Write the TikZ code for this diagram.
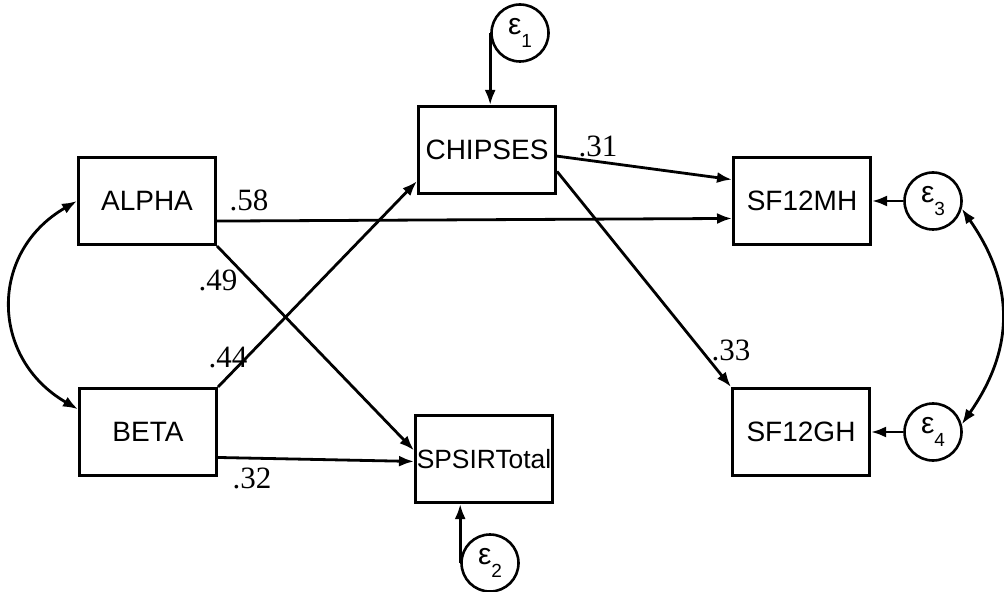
\documentclass[tikz,border=0pt]{standalone}
\usepackage{fontspec}
\setmainfont{Liberation Serif}
\setsansfont{Liberation Sans}
\usetikzlibrary{arrows.meta}

\begin{document}
\begin{tikzpicture}
[%%%%%%%%%%%%%%%%%%%%%%%%%%%%%%
x=0.5pt,y=-0.5pt,
box/.style={rectangle,draw=black,line width=1.5pt,minimum width=68.5pt,minimum height=43.5pt,inner sep=0pt,font=\sffamily\fontsize{14}{16}\selectfont},
err/.style={circle,draw=black,line width=1.3pt,minimum size=28.5pt,inner sep=0pt,font=\sffamily\fontsize{15}{15}\selectfont},
coef/.style={inner sep=0pt,font=\fontsize{15.5}{17}\selectfont},
arr/.style={line width=1.4pt,-{Latex[length=7.5pt,width=5.5pt]}},
cov/.style={line width=1.4pt,{Latex[length=7.5pt,width=5.5pt]}-{Latex[length=7.5pt,width=5.5pt]}},
]%%%%%%%%%%%%%%%%%%%%%%%%%%%%%%
\useasboundingbox (0,0) rectangle (1004,592);
\node[box] (alpha) at (147,201){ALPHA};
\node[box] (beta) at (148,432){BETA};
\node[box] (chipses) at (487,150){CHIPSES};
\node[box,font=\sffamily\fontsize{13.2}{15}\selectfont] (spsir) at (484,459){SPSIRTotal};
\node[box] (mh) at (802,201){SF12MH};
\node[box] (gh) at (801,432){SF12GH};
\foreach \n/\x/\y in {1/520/33,2/490/563,3/933/201,4/933/432}
\node[err] (e\n) at (\x,\y){ε\raisebox{-0.8ex}{\fontsize{9.5}{9}\selectfont\n}};
% errors
\draw[arr] (e1.west) -- (e1.west |- chipses.north);
\draw[arr] (e2.west) -- (e2.west |- spsir.south);
\draw[arr] (e3.west) -- (mh.east);
\draw[arr] (e4.west) -- (gh.east);
% paths
\draw[arr] (alpha.-16) -- (mh.194);
\draw[arr] (chipses.-5) -- (mh.163);
\draw[arr] (chipses.-17) -- (gh.north west);
\draw[arr] (alpha.south east) -- (spsir.173);
\draw[arr] (beta.north east) -- (chipses.204);
\draw[arr] (beta.-20) -- (spsir.182);
% covariances
\draw[cov] (alpha.180) to[out=210,in=150,looseness=1.25] (beta.162);
\draw[cov] (e3.-15) to[out=-55,in=55,looseness=1.1] (e4.15);
% coefficients
\node[coef] (c58) at (249,200){.58};
\node[coef] (c49) at (218,280){.49};
\node[coef] (c44) at (228,358){.44};
\node[coef] (c32) at (252,478){.32};
\node[coef] (c31) at (598,146){.31};
\node[coef] (c33) at (731,350){.33};
\end{tikzpicture}
\end{document}
